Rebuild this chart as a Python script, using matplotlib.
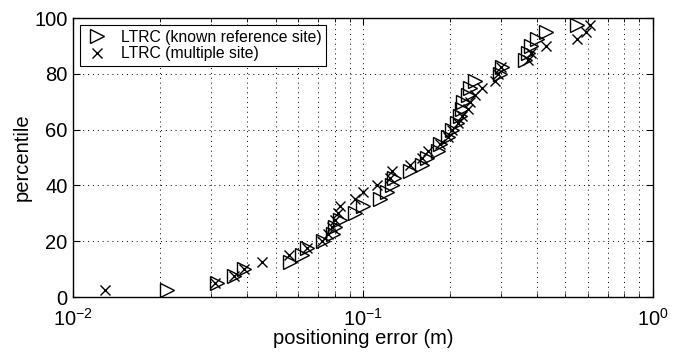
import matplotlib
matplotlib.use("Agg")
import matplotlib.pyplot as plt
from matplotlib.ticker import LogLocator, LogFormatterMathtext, NullFormatter

plt.rcParams['font.family'] = ['Liberation Sans', 'DejaVu Sans']
plt.rcParams['mathtext.fontset'] = 'custom'
plt.rcParams['mathtext.rm'] = 'Liberation Sans'
plt.rcParams['mathtext.it'] = 'Liberation Sans:italic'
plt.rcParams['mathtext.bf'] = 'Liberation Sans:bold'

# percentile levels shared by both series
pct = [2.5, 5, 7.5, 10, 12.5, 15, 17.5, 20, 22.5, 25, 27.5, 30, 32.5,
       35, 37.5, 40, 42.5, 45, 47.5, 50, 52.5, 55, 57.5, 60, 62.5, 65,
       67.5, 70, 72.5, 75, 77.5, 80, 82.5, 85, 87.5, 90, 92.5, 95, 97.5]

# positioning error (m), known reference site
err_known = [0.0211, 0.0313, 0.036, 0.039, 0.0562, 0.0619, 0.0644, 0.0731,
             0.0791, 0.0804, 0.0836, 0.0942, 0.1004, 0.115, 0.121, 0.126,
             0.128, 0.146, 0.160, 0.167, 0.182, 0.185, 0.197, 0.203, 0.212,
             0.217, 0.220, 0.222, 0.231, 0.234, 0.243, 0.298, 0.302, 0.363,
             0.372, 0.38, 0.398, 0.43, 0.55]

# positioning error (m), multiple site
err_multi = [0.0129, 0.031, 0.036, 0.039, 0.0448, 0.0558, 0.0640, 0.0724,
             0.076, 0.078, 0.080, 0.082, 0.0835, 0.094, 0.100, 0.112,
             0.124, 0.126, 0.146, 0.160, 0.168, 0.185, 0.197, 0.203, 0.213,
             0.220, 0.230, 0.234, 0.243, 0.258, 0.287, 0.293, 0.300, 0.372,
             0.38, 0.43, 0.55, 0.59, 0.61]

fig = plt.figure(figsize=(6.85, 3.54), dpi=100)
ax = fig.add_axes([0.1066, 0.161, 0.846, 0.788])

ax.plot(err_known, pct, linestyle='none', marker='>', markersize=10,
        markerfacecolor='none', markeredgecolor='black', markeredgewidth=1.0,
        label='LTRC (known reference site)')
ax.plot(err_multi, pct, linestyle='none', marker='x', markersize=6.5,
        color='black', markeredgewidth=1.0, label='LTRC (multiple site)')

ax.set_xscale('log')
ax.set_xlim(0.01, 1)
ax.set_ylim(0, 100)
ax.set_yticks([0, 20, 40, 60, 80, 100])
ax.xaxis.set_major_locator(LogLocator(base=10))
ax.xaxis.set_major_formatter(LogFormatterMathtext())
ax.xaxis.set_minor_locator(LogLocator(base=10, subs=range(2, 10)))
ax.xaxis.set_minor_formatter(NullFormatter())

dots = (0, (1, 4))
ax.grid(True, which='major', axis='both', linestyle=dots, color='black', linewidth=0.7)
ax.grid(True, which='minor', axis='x', linestyle=dots, color='black', linewidth=0.7)

ax.tick_params(which='both', direction='in', top=True, right=True, labelsize=14.5)
ax.tick_params(axis='x', which='major', pad=7.5)
ax.tick_params(axis='y', which='major', pad=4)
ax.tick_params(which='major', length=5, width=0.8)
ax.tick_params(which='minor', length=3, width=0.6)
for s in ax.spines.values():
    s.set_linewidth(1.0)

ax.set_xlabel('positioning error (m)', fontsize=14.5, labelpad=0)
ax.set_ylabel('percentile', fontsize=14.5, labelpad=2)
ax.yaxis.set_label_coords(-0.072, 0.5)

leg = ax.legend(loc='upper left', fontsize=11.3, frameon=True, fancybox=False,
                edgecolor='black', framealpha=1, borderaxespad=0.45,
                handletextpad=0.7, handlelength=1.6, borderpad=0.3,
                labelspacing=0.1)
leg.get_frame().set_linewidth(0.8)

fig.savefig('out.png', dpi=100)
